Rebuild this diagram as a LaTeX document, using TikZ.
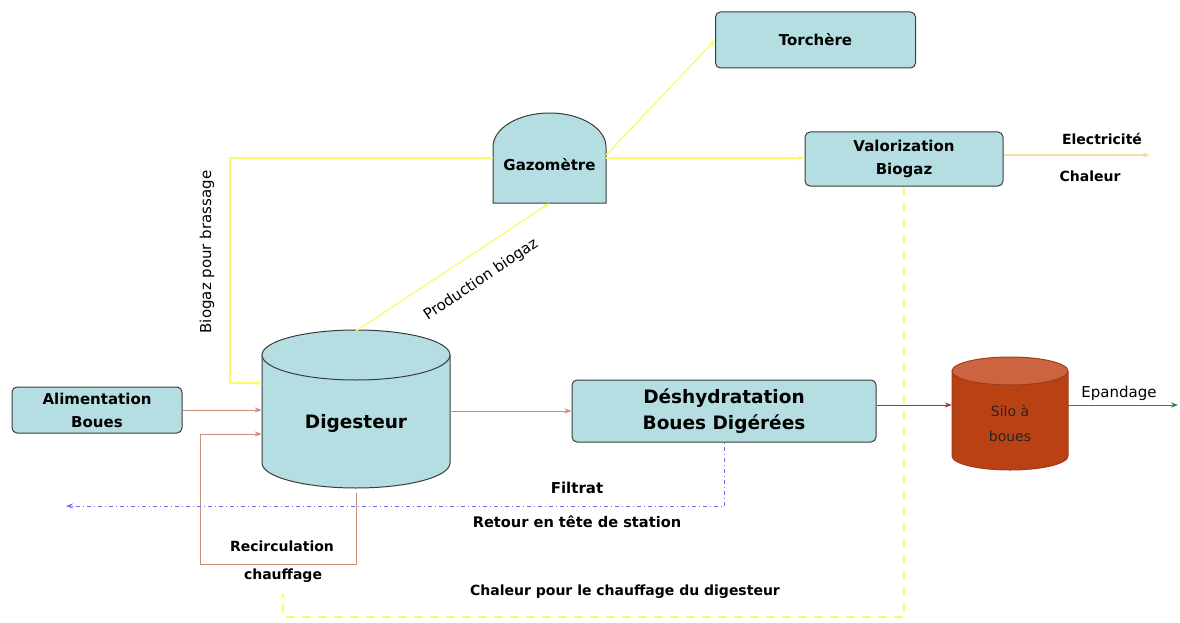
\documentclass[tikz,border=0pt]{standalone}
\usepackage{fontspec}
\setmainfont{DejaVu Sans}
\usetikzlibrary{arrows.meta, positioning}

\definecolor{boxcyan}{RGB}{180,222,226}
\definecolor{boxedge}{RGB}{60,60,60}
\definecolor{gasyellow}{RGB}{250,250,110}
\definecolor{sludge}{RGB}{200,140,120}
\definecolor{darksludge}{RGB}{160,60,30}
\definecolor{silobody}{RGB}{185,65,20}
\definecolor{silotop}{RGB}{205,100,65}
\definecolor{spread}{RGB}{40,140,40}
\definecolor{filtrate}{RGB}{110,110,230}
\definecolor{energy}{RGB}{245,220,170}

\tikzset{
  unit/.style={draw=boxedge, fill=boxcyan, rounded corners=5pt, line width=1pt,
    align=center, font=\bfseries\fontsize{15}{23}\selectfont},
  bigunit/.style={unit, font=\bfseries\fontsize{18.5}{26}\selectfont},
  tank/.style={draw=boxedge, fill=boxcyan, line width=1pt},
  hole/.style={inner sep=0pt, align=center},
  lbl/.style={font=\bfseries\fontsize{14}{16}\selectfont, inner sep=0pt},
  thinlbl/.style={font=\fontsize{15}{17}\selectfont, inner sep=0pt},
  gas/.style={draw=gasyellow, line width=1.3pt},
  mud/.style={draw=sludge, line width=1pt}
}

\begin{document}
\begin{tikzpicture}[x=1pt, y=-1pt, >={Stealth[length=7pt,width=5pt]}]
  \useasboundingbox (0,0) rectangle (1180,623);

  % cylinders and dome
  \filldraw[tank] (262,355) -- (262,463) arc[start angle=180, end angle=0, x radius=94, y radius=25] -- (450,355);
  \filldraw[tank] (356,355) ellipse[x radius=94, y radius=25];
  \filldraw[tank] (493,203) -- (493,147) arc[start angle=180, end angle=360, x radius=56.5, y radius=34] -- (606,203) -- cycle;
  \filldraw[draw=darksludge, fill=silobody, line width=1pt] (952,371) -- (952,456) arc[start angle=180, end angle=0, x radius=58, y radius=14] -- (1068,371);
  \filldraw[draw=darksludge, fill=silotop, line width=1pt] (1010,371) ellipse[x radius=58, y radius=14];

  % nodes
  \node[unit, minimum width=170pt, minimum height=46pt] (alim) at (97,410) {Alimentation\\Boues};
  \node[hole, minimum width=188pt, minimum height=140pt, font=\bfseries\fontsize{18.5}{22}\selectfont] (dig) at (356,423) {Digesteur};
  \coordinate (digtop) at (356,331);
  \node[hole, minimum width=113pt, minimum height=76pt, font=\bfseries\fontsize{15}{17}\selectfont] (gaz) at (549.5,165) {Gazomètre};
  \node[unit, minimum width=200pt, minimum height=56pt] (torch) at (815.5,40) {Torchère};
  \node[unit, minimum width=198pt, minimum height=54pt] (valo) at (904,159) {Valorization\\Biogaz};
  \node[bigunit, minimum width=304pt, minimum height=62pt] (deshyd) at (724,411) {Déshydratation\\Boues Digérées};
  \node[hole, minimum width=116pt, minimum height=113pt, font=\fontsize{14}{25}\selectfont, text=black!85] (silo) at (1010,423) {Silo à\\boues};

  \coordinate (brass) at (230,300);
  \coordinate (rc) at (200,564);
  \coordinate (elec) at (1150,155);
  \coordinate (hc) at (283,617);
  \coordinate (hcend) at (283,592);
  \coordinate (filt) at (66,506);
  \coordinate (epand) at (1178,405);

  % biogas lines
  \draw[gas, ->] ([yshift=7pt]gaz.west) -| (brass) |- ([yshift=40pt]dig.west);
  \draw[gas, ->] (digtop) -- (gaz.south);
  \draw[gas, ->] ([yshift=10pt]gaz.east) -- (torch.west);
  \draw[gas, ->] ([yshift=7pt]gaz.east) -- (valo.west |- 0,158);
  \draw[draw=energy, line width=1.3pt, ->] (valo.east |- elec) -- (elec);
  \draw[gas, dashed, dash pattern=on 9pt off 7pt, ->] (valo.south) |- (hc) -- (hcend);

  % sludge lines
  \draw[mud, ->] (alim.east) -- (alim.east -| dig.west);
  \draw[mud, ->] (dig.south) |- (rc) |- ([yshift=-11pt]dig.west);
  \draw[mud, ->] (dig.east |- deshyd.west) -- (deshyd.west);
  \draw[draw=darksludge, line width=1pt, ->] ([yshift=6pt]deshyd.east) -- ([yshift=6pt]deshyd.east -| silo.west);
  \draw[draw=spread, line width=1pt, ->] (silo.east |- epand) -- (epand);
  \draw[draw=filtrate, line width=0.9pt, dash pattern=on 1pt off 3pt on 4pt off 3pt, ->] (deshyd.south) |- (filt);

  % labels
  \node[thinlbl, rotate=90] (lbrass) at (207,252) {Biogaz pour brassage};
  \node[thinlbl, rotate=34] (lprod) at (481,280) {Production biogaz};
  \node[lbl] (lelec) at (1102,139) {Electricité};
  \node[lbl] (lchal) at (1090,176) {Chaleur};
  \node[thinlbl] (lepand) at (1119,393) {Epandage};
  \node[lbl, font=\bfseries\fontsize{15}{17}\selectfont] (lfilt) at (577,488) {Filtrat};
  \node[lbl, font=\bfseries\fontsize{14.6}{17}\selectfont] (lret) at (577,522) {Retour en tête de station};
  \node[lbl] (lrec) at (282,546) {Recirculation};
  \node[lbl] (lchauf) at (283,576) {chauffage};
  \node[lbl] (lheat) at (625,592) {Chaleur pour le chauffage du digesteur};
\end{tikzpicture}
\end{document}
